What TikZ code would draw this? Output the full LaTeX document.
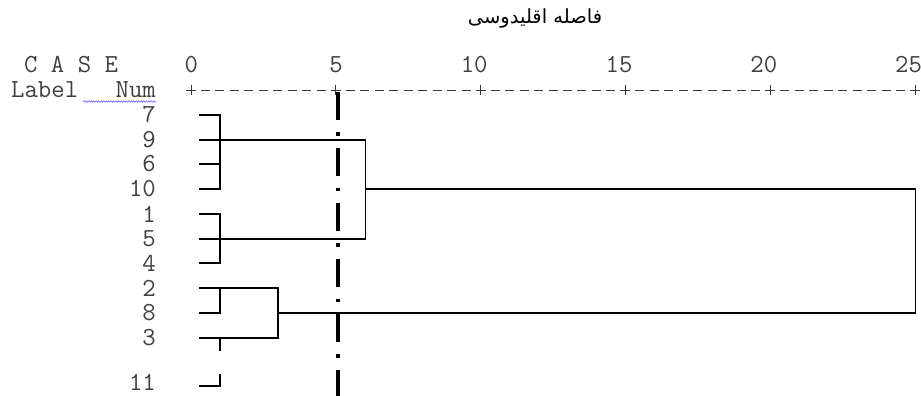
\documentclass[tikz,border=0pt]{standalone}
\usepackage{fontspec}
\newfontfamily\arabicfont[Script=Arabic]{DejaVu Sans}
\TeXXeTstate=1
\usetikzlibrary{calc,decorations.pathmorphing}
\begin{document}
\begin{tikzpicture}[x=1pt,y=-1pt,
  txt/.style={font=\fontsize{26}{26}\selectfont\ttfamily, text=black!75, inner sep=0pt},
  tree/.style={line width=1.4pt, black},
  axis/.style={line width=1pt, black!78},
  cut/.style={line width=3.5pt, black, dash pattern=on 28pt off 12pt on 3.5pt off 12pt},
  squig/.style={blue!70!white, line width=0.5pt, decorate, decoration={snake, amplitude=0.7pt, segment length=2.5pt}}
]
\useasboundingbox[fill=white] (0,0) rectangle (921,396);

% title
\node[inner sep=0pt] (title) at (535,18) {\arabicfont\fontsize{19.5}{19.5}\selectfont\beginR فاصله اقلیدوسی\endR};

% header
\node[txt, anchor=west] (case) at (24,65) {C A S E};
\node[txt, anchor=west] (label) at (11,90) {Label};
\node[txt, anchor=east] (num) at (156,90) {Num};
\coordinate (sqa) at (83,101.5);
\coordinate (sqb) at (156,101.5);
\draw[squig] (sqa) -- (sqb);

% scale numbers and axis
\foreach \v [count=\k from 0] in {0,5,10,15,20,25} {
  \coordinate (p\k) at (191+144.8*\k,90);
  \node[txt, anchor=east] (n\v) at ($(p\k)+(7.2,-25)$) {\v};
  \draw[axis] ($(p\k)+(-5,0)$) -- ($(p\k)+(5,0)$);
  \draw[axis] ($(p\k)+(0,-5)$) -- ($(p\k)+(0,5)$);
}
\foreach \k in {0,...,4} {
  \draw[axis, dash pattern=on 9pt off 5.48pt] ($(p\k)+(10,0)$) -- ($(p\k)+(134.84,0)$);
}

% leaves
\foreach \n/\y in {7/115, 9/140, 6/164, 10/189, 1/214, 5/239, 4/263, 2/288, 8/313, 3/338, 11/382.5} {
  \node[txt, anchor=east] (l\n) at (156,\y) {\n};
}
\foreach \n/\y in {7/115, 9/140, 6/164, 10/189, 1/214, 5/239, 4/263, 2/288, 8/313, 3/338, 11/386} {
  \coordinate (s\n) at (199,\y);
}

% vertical levels
\coordinate (vA) at (220,0);
\coordinate (vB) at (278,0);
\coordinate (vC) at (365.5,0);
\coordinate (vD) at (915.5,0);

% cluster 7,9,6,10
\draw[tree] (s7) -- (s7-|vA) -- (s10-|vA) -- (s10);
\draw[tree] (s6) -- (s6-|vA);
\draw[tree] (s9) -- (s9-|vC) -- (s5-|vC);
% cluster 1,5,4
\draw[tree] (s1) -- (s1-|vA) -- (s4-|vA) -- (s4);
\draw[tree] (s5) -- (s5-|vC);
% join
\draw[tree] (s10-|vC) -- (s10-|vD) -- (s8-|vD);
% cluster 2,8,3
\draw[tree] (s8) -- (s8-|vA) -- (s2-|vA);
\draw[tree] (s2) -- (s2-|vB) -- (s3-|vB) -- (s3);
\draw[tree] (s8-|vB) -- (s8-|vD);
% 3 and 11
\draw[tree] ($(s3-|vA)+(0,1)$) -- ($(s3-|vA)+(0,13)$);
\draw[tree] (s11) -- (s11-|vA) -- ($(s11-|vA)+(0,-12)$);

% cut line
\coordinate (c1) at (338,92);
\coordinate (c2) at (338,396);
\draw[cut] (c1) -- (c2);
\end{tikzpicture}
\end{document}
